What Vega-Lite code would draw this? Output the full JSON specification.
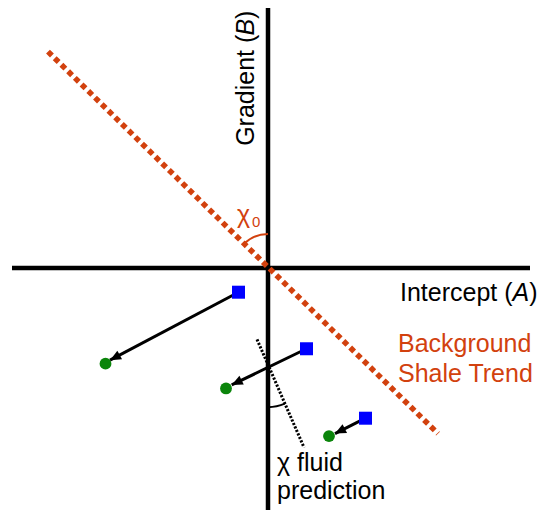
{
  "$schema": "https://vega.github.io/schema/vega-lite/v6.json",
  "width": 544,
  "height": 513,
  "padding": 0,
  "autosize": {"type": "fit", "contains": "padding"},
  "background": "white",
  "config": {"view": {"stroke": null}},
  "datasets": {
    "axes": [
      {"name": "Gradient axis", "a": 0, "b": 262, "a2": 0, "b2": -244},
      {"name": "Intercept axis", "a": -256, "b": 0, "a2": 262, "b2": 0}
    ],
    "trend": [{"name": "Background shale trend", "a": -220, "b": 218, "a2": 170, "b2": -167}],
    "fluid": [{"name": "Fluid prediction", "a": -11, "b": -72, "a2": 36, "b2": -181}],
    "squares": [
      {"id": 1, "a": -29.5, "b": -24.5},
      {"id": 2, "a": 38.5, "b": -81.5},
      {"id": 3, "a": 97.5, "b": -151.5}
    ],
    "dots": [
      {"id": 1, "a": -162.5, "b": -96.5},
      {"id": 2, "a": -42, "b": -121.5},
      {"id": 3, "a": 61, "b": -169.5}
    ],
    "arrows": [
      {"id": 1, "a": -29.5, "b": -24.5, "a2": -158, "b2": -93},
      {"id": 2, "a": 38.5, "b": -81.5, "a2": -36.3, "b2": -118},
      {"id": 3, "a": 97.5, "b": -151.5, "a2": 67, "b2": -167}
    ],
    "blackText": [
      {"text": "Intercept (", "a": 132, "b": -33},
      {"text": ")", "a": 261.3, "b": -33},
      {"text": "χ fluid", "a": 9, "b": -205},
      {"text": "prediction", "a": 9, "b": -233}
    ],
    "blackItalic": [{"text": "A", "a": 244.6, "b": -33}],
    "rotText": [
      {"text": "Gradient (", "a": -14, "b": 123},
      {"text": ")", "a": -14, "b": 250.9}
    ],
    "rotItalic": [{"text": "B", "a": -14, "b": 234.2}],
    "redText": [
      {"text": "Background", "a": 130, "b": -85},
      {"text": "Shale Trend", "a": 130, "b": -115}
    ],
    "chi": [{"text": "χ", "a": -31, "b": 45}],
    "sub": [{"text": "0", "a": -16, "b": 41}],
    "origin": [{"a": 0, "b": 0}],
    "crossing": [{"a": 0, "b": -98}]
  },
  "encoding": {
    "x": {"field": "a", "type": "quantitative", "axis": null, "scale": {"domain": [-268, 276], "nice": false, "zero": false}},
    "y": {"field": "b", "type": "quantitative", "axis": null, "scale": {"domain": [-243, 270], "nice": false, "zero": false}}
  },
  "layer": [
    {
      "data": {"name": "axes"},
      "mark": {"type": "rule", "color": "black", "strokeWidth": 4.5, "strokeCap": "butt"},
      "encoding": {"x2": {"field": "a2"}, "y2": {"field": "b2"}}
    },
    {
      "data": {"name": "trend"},
      "mark": {"type": "rule", "color": "#d2410e", "strokeWidth": 5.5, "strokeCap": "butt", "strokeDash": [5.5, 3.9]},
      "encoding": {"x2": {"field": "a2"}, "y2": {"field": "b2"}}
    },
    {
      "data": {"name": "fluid"},
      "mark": {"type": "rule", "color": "black", "strokeWidth": 3, "strokeCap": "butt", "strokeDash": [2.2, 1.6]},
      "encoding": {"x2": {"field": "a2"}, "y2": {"field": "b2"}}
    },
    {
      "data": {"name": "origin"},
      "mark": {"type": "arc", "filled": false, "stroke": "#d2410e", "strokeWidth": 2, "radius": 34, "radius2": 34, "theta": 5.49, "theta2": 6.283},
      "encoding": {}
    },
    {
      "data": {"name": "crossing"},
      "mark": {"type": "arc", "filled": false, "stroke": "black", "strokeWidth": 2, "radius": 42, "radius2": 42, "theta": 2.73, "theta2": 3.1416},
      "encoding": {}
    },
    {
      "data": {"name": "arrows"},
      "mark": {"type": "rule", "color": "black", "strokeWidth": 3, "strokeCap": "butt"},
      "encoding": {"x2": {"field": "a2"}, "y2": {"field": "b2"}}
    },
    {
      "data": {"name": "arrows"},
      "transform": [{"calculate": "atan2(datum.a2 - datum.a, datum.b2 - datum.b) * 180 / PI", "as": "dir"}],
      "mark": {"type": "point", "shape": "M0,0L-0.45,1L0.45,1Z", "filled": true, "color": "black", "opacity": 1, "size": 484},
      "encoding": {
        "x": {"field": "a2", "type": "quantitative"},
        "y": {"field": "b2", "type": "quantitative"},
        "angle": {"field": "dir", "type": "quantitative", "scale": null}
      }
    },
    {
      "data": {"name": "squares"},
      "mark": {"type": "square", "color": "#0000ff", "filled": true, "opacity": 1, "size": 169},
      "encoding": {}
    },
    {
      "data": {"name": "dots"},
      "mark": {"type": "circle", "color": "#0b850b", "opacity": 1, "size": 140},
      "encoding": {}
    },
    {
      "data": {"name": "blackText"},
      "mark": {"type": "text", "font": "Liberation Sans", "fontSize": 25, "align": "left", "baseline": "alphabetic", "color": "black"},
      "encoding": {"text": {"field": "text"}}
    },
    {
      "data": {"name": "blackItalic"},
      "mark": {"type": "text", "font": "Liberation Sans", "fontSize": 25, "fontStyle": "italic", "align": "left", "baseline": "alphabetic", "color": "black"},
      "encoding": {"text": {"field": "text"}}
    },
    {
      "data": {"name": "rotText"},
      "mark": {"type": "text", "font": "Liberation Sans", "fontSize": 25, "angle": 270, "align": "left", "baseline": "alphabetic", "color": "black"},
      "encoding": {"text": {"field": "text"}}
    },
    {
      "data": {"name": "rotItalic"},
      "mark": {"type": "text", "font": "Liberation Sans", "fontSize": 25, "fontStyle": "italic", "angle": 270, "align": "left", "baseline": "alphabetic", "color": "black"},
      "encoding": {"text": {"field": "text"}}
    },
    {
      "data": {"name": "redText"},
      "mark": {"type": "text", "font": "Liberation Sans", "fontSize": 25, "align": "left", "baseline": "alphabetic", "color": "#d2410e"},
      "encoding": {"text": {"field": "text"}}
    },
    {
      "data": {"name": "chi"},
      "mark": {"type": "text", "font": "Liberation Sans", "fontSize": 25, "align": "left", "baseline": "alphabetic", "color": "#d2410e"},
      "encoding": {"text": {"field": "text"}}
    },
    {
      "data": {"name": "sub"},
      "mark": {"type": "text", "font": "Liberation Sans", "fontSize": 15, "align": "left", "baseline": "alphabetic", "color": "#d2410e"},
      "encoding": {"text": {"field": "text"}}
    }
  ]
}
